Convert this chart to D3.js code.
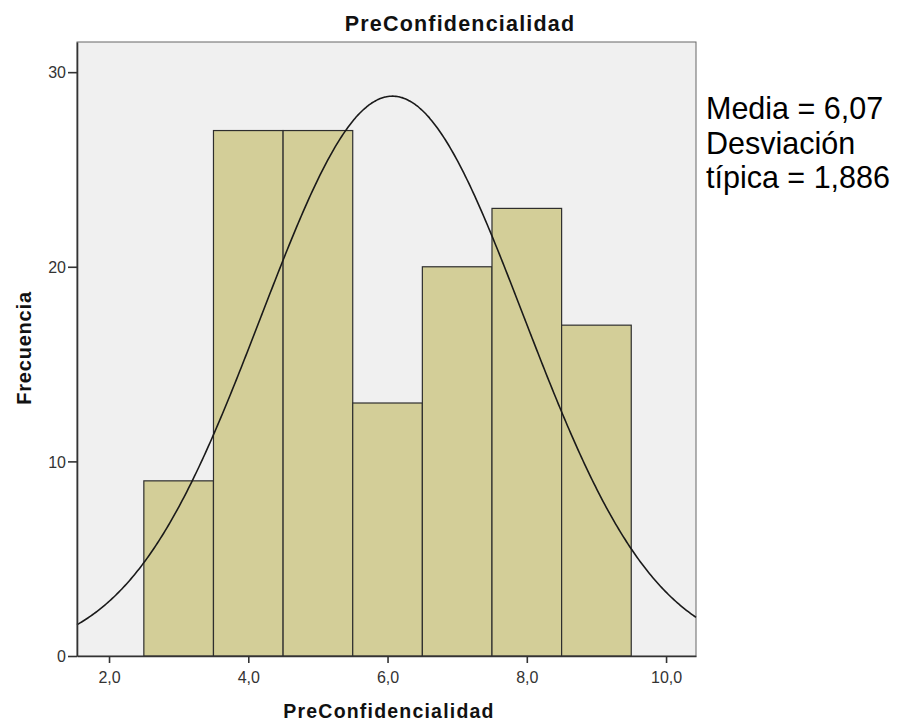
<!DOCTYPE html>
<html>
<head>
<meta charset="utf-8">
<script src="https://cdn.jsdelivr.net/npm/d3@7/dist/d3.min.js"></script>
<style>
  html, body { margin: 0; padding: 0; background: #ffffff; }
  svg { display: block; font-family: "Liberation Sans", Arial, sans-serif; }
</style>
</head>
<body>
<svg id="chart" width="910" height="721"></svg>
<script>
// Histogram bins (lower edge, width 1) and their counts
const binLower = [2.5, 3.5, 4.5, 5.5, 6.5, 7.5, 8.5];
const frequencies = [9, 27, 27, 13, 20, 23, 17];
const binWidth = 1;
const xTicks = [2, 4, 6, 8, 10];
const yTicks = [0, 10, 20, 30];
const mean = 6.07;
const stdDev = 1.886;
const statLines = ["Media = 6,07", "Desviación", "típica = 1,886"];

const svg = d3.select("#chart");
const plot = { left: 77, right: 696, top: 42, bottom: 656 };

const x = d3.scaleLinear().domain([1.54, 10.43]).range([plot.left, plot.right]);
const y = d3.scaleLinear().domain([0, 31.55]).range([plot.bottom, plot.top]);

const esFormat = d3.formatLocale({ decimal: ",", thousands: ".", grouping: [3], currency: ["", " €"] }).format(".1f");

// Plot background
svg.append("rect")
  .attr("x", plot.left).attr("y", plot.top)
  .attr("width", plot.right - plot.left).attr("height", plot.bottom - plot.top)
  .attr("fill", "#f0f0f0").attr("stroke", "#666").attr("stroke-width", 1);

// Bars
const bins = binLower.map((lo, i) => ({ lo, hi: lo + binWidth, n: frequencies[i] }));
svg.append("g").selectAll("rect").data(bins).join("rect")
  .attr("x", d => x(d.lo))
  .attr("y", d => y(d.n))
  .attr("width", d => x(d.hi) - x(d.lo))
  .attr("height", d => y(0) - y(d.n))
  .attr("fill", "#d3ce98")
  .attr("stroke", "#2e2e2e")
  .attr("stroke-width", 1.2);

// Fitted normal curve scaled to the histogram counts
const total = d3.sum(frequencies);
const peak = total * binWidth / (stdDev * Math.sqrt(2 * Math.PI));
const curvePts = d3.range(0, 401).map(i => {
  const xv = x.domain()[0] + (x.domain()[1] - x.domain()[0]) * i / 400;
  const z = (xv - mean) / stdDev;
  return [xv, peak * Math.exp(-0.5 * z * z)];
});
svg.append("path")
  .datum(curvePts)
  .attr("d", d3.line().x(d => x(d[0])).y(d => y(d[1])).curve(d3.curveBasis))
  .attr("fill", "none").attr("stroke", "#1a1a1a").attr("stroke-width", 1.6);

// Axes
const xAxis = svg.append("g")
  .attr("transform", `translate(0,${plot.bottom})`)
  .call(d3.axisBottom(x).tickValues(xTicks).tickFormat(esFormat).tickSize(7).tickSizeOuter(0));
const yAxis = svg.append("g")
  .attr("transform", `translate(${plot.left},0)`)
  .call(d3.axisLeft(y).tickValues(yTicks).tickFormat(d3.format("d")).tickSize(9).tickSizeOuter(0));

[xAxis, yAxis].forEach(g => {
  g.select(".domain").attr("stroke", "#333").attr("stroke-width", 1.6);
  g.selectAll(".tick line").attr("stroke", "#333").attr("stroke-width", 1.6);
  g.selectAll(".tick text")
    .attr("fill", "#333")
    .style("font-family", "'Liberation Sans', Arial, sans-serif")
    .style("font-size", "16px");
});
xAxis.selectAll(".tick text").attr("dy", null).attr("y", 27);
yAxis.selectAll(".tick text").attr("x", -11).attr("dy", "0.36em");

// Title and axis titles
svg.append("text")
  .attr("x", 460).attr("y", 31)
  .attr("text-anchor", "middle")
  .style("font-weight", "bold").style("font-size", "21.5px").style("letter-spacing", "1.2px")
  .attr("fill", "#111")
  .text("PreConfidencialidad");

svg.append("text")
  .attr("x", 389).attr("y", 718)
  .attr("text-anchor", "middle")
  .style("font-weight", "bold").style("font-size", "19.5px").style("letter-spacing", "1.2px")
  .attr("fill", "#111")
  .text("PreConfidencialidad");

svg.append("text")
  .attr("transform", "translate(31,348) rotate(-90)")
  .attr("text-anchor", "middle")
  .style("font-weight", "bold").style("font-size", "20px").style("letter-spacing", "0.8px")
  .attr("fill", "#111")
  .text("Frecuencia");

// Summary statistics
svg.append("g").selectAll("text").data(statLines).join("text")
  .attr("x", 706)
  .attr("y", (d, i) => 119 + i * 34.5)
  .style("font-size", "30.5px")
  .attr("fill", "#000")
  .text(d => d);
</script>
</body>
</html>
